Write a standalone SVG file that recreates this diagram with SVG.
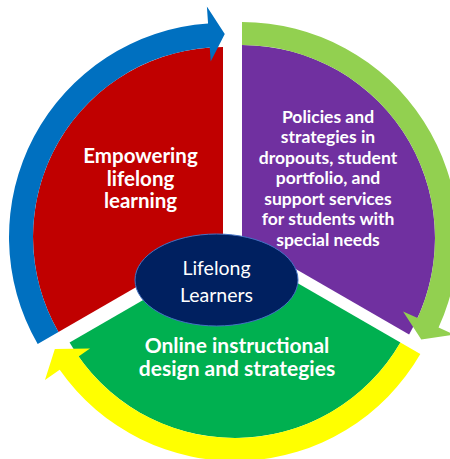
<svg xmlns="http://www.w3.org/2000/svg" width="450" height="459" viewBox="0 0 450 459">
<style>
.lbl{font-family:Lato,"Open Sans","Liberation Sans",sans-serif;fill:#ffffff;text-anchor:middle;font-weight:bold}
.ctr{font-family:Lato,"Open Sans","Liberation Sans",sans-serif;fill:#ffffff;text-anchor:middle;font-size:19.5px}
</style>
<rect width="450" height="459" fill="#ffffff"/>
<g id="seg-red">
<path d="M223,237 L58.46,332 A190,190 0 0 1 223,47 Z" fill="#C00000"/>
</g>
<g id="seg-purple">
<path d="M242,238 L242,45 A193,193 0 0 1 409.14,334.5 Z" fill="#7030A0"/>
</g>
<g id="seg-green">
<path d="M235,247 L400.41,342.5 A191,191 0 0 1 69.59,342.5 Z" fill="#00B050"/>
</g>
<g id="connectors">
<path d="M37.68,344 A214,214 0 0 1 208.07,23.52 L206.89,6.56 L224.77,34 L210.72,61.43 L209.75,47.46 A190,190 0 0 0 58.46,332 Z" fill="#0070C0"/>
<path d="M242,22 A216,216 0 0 1 438.55,327.57 L454.02,334.62 L421.29,339.44 L403.06,311.4 L417.62,318.04 A193,193 0 0 0 242,45 Z" fill="#92D050"/>
<path d="M420.33,354 A214,214 0 0 1 59.70,369.75 L44.96,380.07 L54.84,348.93 L90.01,348.52 L78.54,356.55 A191,191 0 0 0 400.41,342.5 Z" fill="#FFFF00"/>
</g>
<g id="label-red">
<text class="lbl" style="font-size:20.5px" x="140.5" y="163">Empowering</text>
<text class="lbl" style="font-size:20.5px" x="140.5" y="185.5">lifelong</text>
<text class="lbl" style="font-size:20.5px" x="140.5" y="208">learning</text>
</g>
<g id="label-purple">
<text class="lbl" style="font-size:17.5px" x="328" y="122.5">Policies and</text>
<text class="lbl" style="font-size:17.5px" x="328" y="143">strategies in</text>
<text class="lbl" style="font-size:17.5px" x="328" y="163.5">dropouts, student</text>
<text class="lbl" style="font-size:17.5px" x="328" y="184">portfolio, and</text>
<text class="lbl" style="font-size:17.5px" x="328" y="204.5">support services</text>
<text class="lbl" style="font-size:17.5px" x="328" y="225">for students with</text>
<text class="lbl" style="font-size:17.5px" x="328" y="245.5">special needs</text>
</g>
<g id="label-green">
<text class="lbl" style="font-size:21px" x="237" y="353">Online instructional</text>
<text class="lbl" style="font-size:21px" x="237" y="376">design and strategies</text>
</g>
<g id="center">
<ellipse cx="216.5" cy="280" rx="81.5" ry="46" fill="#002060" stroke="#4472C4" stroke-width="1"/>
<text class="ctr" x="216.5" y="275">Lifelong</text>
<text class="ctr" x="216.5" y="302">Learners</text>
</g>
</svg>
